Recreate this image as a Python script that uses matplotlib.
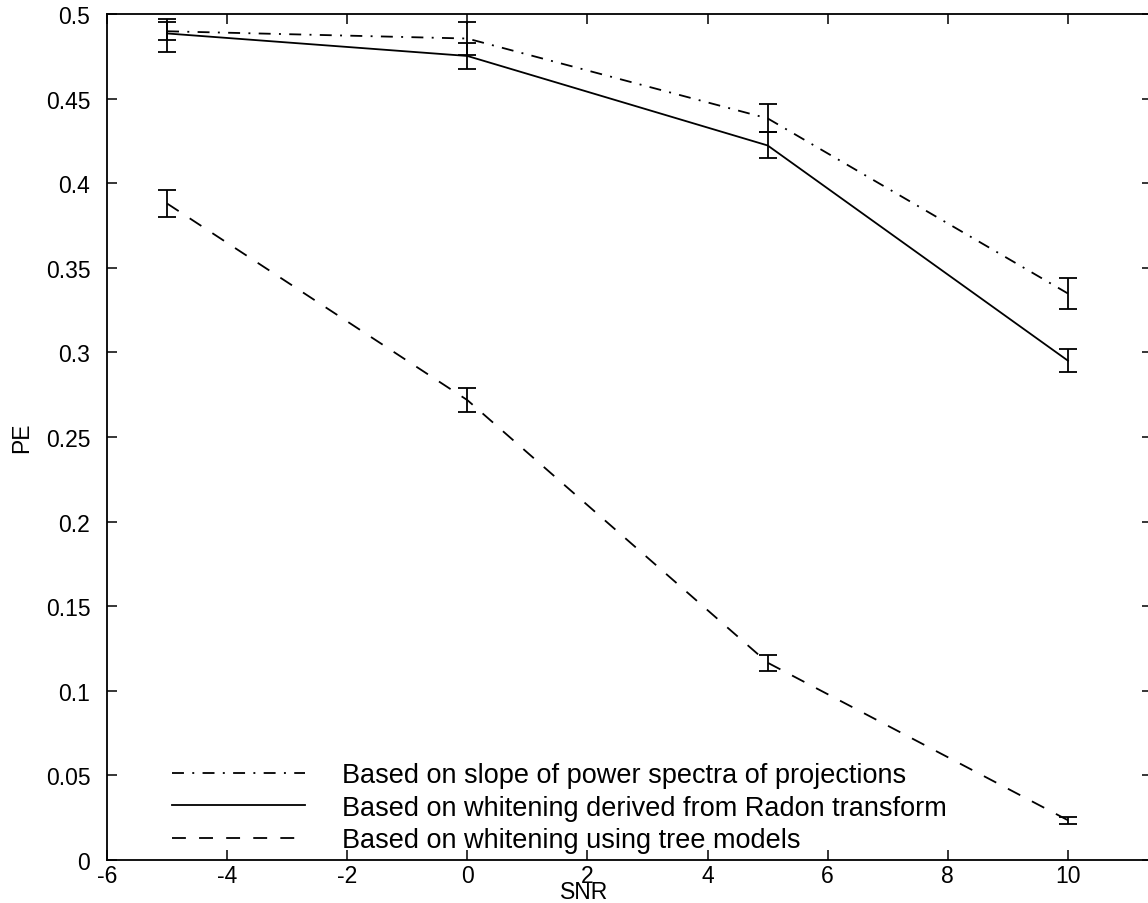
import matplotlib
matplotlib.use("Agg")
import matplotlib.pyplot as plt
import numpy as np

plt.rcParams['font.family'] = ['Liberation Sans', 'DejaVu Sans']
plt.rcParams['axes.unicode_minus'] = False
plt.rcParams['lines.scale_dashes'] = False

# Signal-to-noise ratios tested
snr = [-5, 0, 5, 10]

# Probability of error for each method: mean, lower and upper bound of the error bar
slope_pe = [0.4898, 0.4855, 0.4383, 0.3348]
slope_lo = [0.4844, 0.4757, 0.4300, 0.3257]
slope_hi = [0.4953, 0.4953, 0.4466, 0.3439]

radon_pe = [0.4885, 0.4752, 0.4223, 0.2951]
radon_lo = [0.4777, 0.4676, 0.4147, 0.2883]
radon_hi = [0.4969, 0.4827, 0.4300, 0.3020]

tree_pe = [0.3880, 0.2718, 0.1166, 0.0235]
tree_lo = [0.3802, 0.2649, 0.1119, 0.0213]
tree_hi = [0.3959, 0.2787, 0.1214, 0.0257]

labels = ["Based on slope of power spectra of projections",
          "Based on whitening derived from Radon transform",
          "Based on whitening using tree models"]

x_ticks = [-6, -4, -2, 0, 2, 4, 6, 8, 10]
y_ticks = [0, 0.05, 0.1, 0.15, 0.2, 0.25, 0.3, 0.35, 0.4, 0.45, 0.5]
y_tick_labels = ["0", "0.05", "0.1", "0.15", "0.2", "0.25", "0.3",
                 "0.35", "0.4", "0.45", "0.5"]

W, H = 1148, 904
x0, x1 = -6, 11.4
px_per_unit = 60.06
ax_left, ax_bottom, ax_top = 107, 861, 15
fig = plt.figure(figsize=(W / 100, H / 100), dpi=100)
ax = fig.add_axes([ax_left / W, (H - ax_bottom) / H,
                   (x1 - x0) * px_per_unit / W, (ax_bottom - ax_top) / H])

dashdot = (0, (8.6, 6.0, 1.4, 6.0))
dashed = (0, (10.0, 9.5))
lw = 1.3

series = [
    (slope_pe, slope_lo, slope_hi, dashdot, labels[0]),
    (radon_pe, radon_lo, radon_hi, '-', labels[1]),
    (tree_pe, tree_lo, tree_hi, dashed, labels[2]),
]

handles = []
for pe, lo, hi, ls, lab in series:
    pe = np.asarray(pe)
    yerr = np.vstack([pe - np.asarray(lo), np.asarray(hi) - pe])
    line, = ax.plot(snr, pe, color='black', lw=lw, linestyle=ls, label=lab)
    ax.errorbar(snr, pe, yerr=yerr, fmt='none', ecolor='black',
                elinewidth=lw, capsize=6.8, capthick=lw)
    handles.append(line)

ax.set_xlim(x0, x1)
ax.set_ylim(0, 0.5)
ax.set_xticks(x_ticks)
ax.set_xticklabels([str(t) for t in x_ticks])
ax.set_yticks(y_ticks)
ax.set_yticklabels(y_tick_labels)

fs = 16.5
ax.tick_params(direction='in', length=7, width=1.1, top=True, right=True,
               labelsize=fs)
ax.tick_params(axis='y', pad=12)
ax.tick_params(axis='x', pad=3)
for sp in ax.spines.values():
    sp.set_linewidth(1.3)

ax.set_xlabel("SNR", fontsize=fs, va='baseline')
ax.xaxis.set_label_coords(0.457, -(899 - ax_bottom) / (ax_bottom - ax_top))
ax.set_ylabel("PE", fontsize=fs, labelpad=9)

ax.legend(handles=handles, loc='lower left', bbox_to_anchor=(0.062, 0.008),
          frameon=False, fontsize=19.5, handlelength=4.9, handletextpad=1.37,
          labelspacing=0.24, borderpad=0, borderaxespad=0)

fig.savefig("out.png", dpi=100)
